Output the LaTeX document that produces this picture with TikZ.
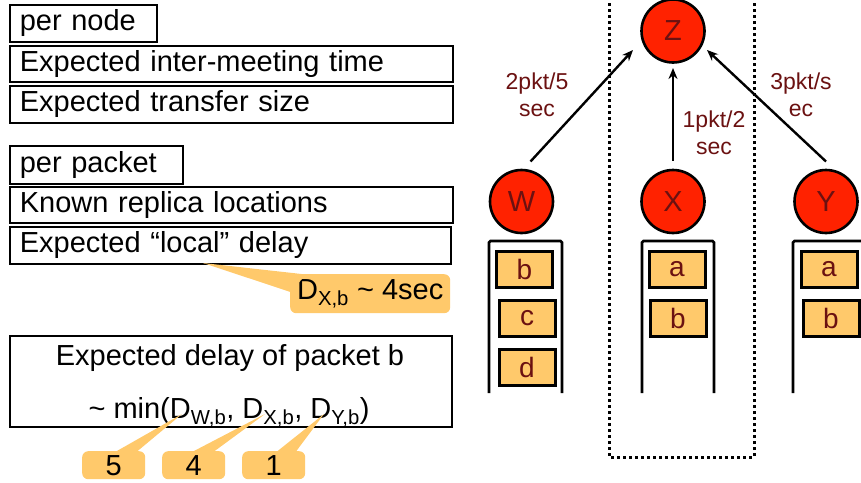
\documentclass[tikz,border=0pt]{standalone}
\usepackage{fontspec}
\setmainfont{Liberation Sans}
\usetikzlibrary{calc,arrows.meta}
\definecolor{nodered}{HTML}{FF2200}
\definecolor{darkred}{HTML}{6B1111}
\definecolor{pkt}{HTML}{FFC96B}
\tikzset{
 txtbox/.style={draw, line width=1.6pt, anchor=north west, inner xsep=10pt, inner ysep=0pt, align=left, font=\fontsize{29}{34}\selectfont},
 host/.style={circle, draw, line width=2.6pt, fill=nodered, minimum size=63pt, inner sep=0pt, text=darkred, font=\fontsize{29}{34}\selectfont},
 pktbox/.style={draw, line width=3pt, fill=pkt, minimum width=56pt, minimum height=36pt, inner sep=0pt, text=darkred, font=\fontsize{28}{34}\selectfont},
 queue/.style={line width=2.6pt, rounded corners=1.5pt},
 rate/.style={text=darkred, align=center, font=\fontsize{23}{27}\selectfont},
 flow/.style={line width=2.4pt, -{Stealth[length=11pt,width=9pt]}},
 calloutbox/.style={fill=pkt, rounded corners=6pt, inner sep=0pt, anchor=north west, font=\fontsize{29}{34}\selectfont},
 plain/.style={font=\fontsize{29}{34}\selectfont, inner sep=0pt},
 region/.style={line width=3pt, dash pattern=on 3pt off 3pt},
}
\begin{document}
\begin{tikzpicture}[x=1pt,y=-1pt]
\useasboundingbox (0,0) rectangle (861,482);
\clip (0,0) rectangle (861,482);

% ---- left: text boxes ----
\node[txtbox, text width=127pt, minimum height=37pt] (pernode) at (9,4) {per node};
\node[txtbox, text width=423pt, minimum height=36pt] (imt) at (9,45) {Expected inter-meeting time};
\node[txtbox, text width=423pt, minimum height=37pt] (tsz) at (9,85) {Expected transfer size};
\node[txtbox, text width=153pt, minimum height=38pt] (perpkt) at (9,145) {per packet};
\node[txtbox, text width=423pt, minimum height=36pt] (krl) at (9,186) {Known replica locations};
\node[txtbox, text width=421pt, minimum height=37pt] (eld) at (9,226) {Expected “local” delay};

% callout D_X,b
\coordinate (eldpt) at (203,263);
\node[calloutbox, minimum width=160pt, minimum height=39pt] (dxb) at (290,274) {D\textsubscript{X,b} \textasciitilde{} 4sec};
\fill[pkt] (eldpt) -- ($(dxb.north west)+(16,0.5)$) -- ($(dxb.north west)+(0.5,18)$) -- cycle;

% big box
\node[draw, line width=1.6pt, anchor=north west, minimum width=442pt, minimum height=91pt] (big) at (9,335) {};
\node[plain, anchor=base] (bigl1) at (230,365) {Expected delay of packet b};
\node[plain, anchor=base] (bigl2) at (229,418) {\textasciitilde{} min(D\textsubscript{W,b}, D\textsubscript{X,b}, D\textsubscript{Y,b})};

% bottom callouts
\coordinate (dw) at (182,414);
\coordinate (dx) at (265,414);
\coordinate (dy) at (324,414);
\node[calloutbox, minimum width=63pt, minimum height=28pt] (c5) at (82,451) {5};
\node[calloutbox, minimum width=63pt, minimum height=28pt] (c4) at (162,451) {4};
\node[calloutbox, minimum width=63pt, minimum height=28pt] (c1) at (242,451) {1};
\fill[pkt] (dw) -- ($(c5.north west)+(34,0.5)$) -- ($(c5.north west)+(55,0.5)$) -- cycle;
\fill[pkt] (dx) -- ($(c4.north west)+(31,0.5)$) -- ($(c4.north west)+(52,0.5)$) -- cycle;
\fill[pkt] (dy) -- ($(c1.north west)+(35,0.5)$) -- ($(c1.north west)+(54,0.5)$) -- cycle;

% ---- right: network ----
\draw[region] (609,-3) -- (609,457) -- (754,457) -- (754,-3);

\node[host] (Z) at (673,31) {Z};
\node[host] (W) at (521.5,201.5) {W};
\node[host] (X) at (673,201.5) {X};
\node[host] (Y) at (826,201.5) {Y};

\draw[flow] ($(W)+(9,-40)$) -- ($(Z)+(-40,19)$);
\draw[flow] ($(X)+(0,-41)$) -- ($(Z)+(0,37)$);
\draw[flow] ($(Y)+(0,-40)$) -- ($(Z)+(34,19)$);

\node[rate] (rw) at (537,95) {2pkt/5\\sec};
\node[rate] (rx) at (714,133) {1pkt/2\\sec};
\node[rate] (ry) at (801,95) {3pkt/s\\ec};

% queues
\draw[queue] (489,393) -- (489,241) -- (562,241) -- (562,393);
\draw[queue] (642,393) -- (642,241) -- (714,241) -- (714,393);
\draw[queue] (793,393) -- (793,241) -- (870,241) -- (870,393);

\node[pktbox] (wb) at (524.5,269) {b};
\node[pktbox] (wc) at (527,318.5) {c};
\node[pktbox] (wd) at (527,367) {d};
\node[pktbox] (xa) at (677,269) {a};
\node[pktbox] (xb) at (678,318.5) {b};
\node[pktbox] (ya) at (829,269) {a};
\node[pktbox] (yb) at (831,318.5) {b};
\end{tikzpicture}
\end{document}
